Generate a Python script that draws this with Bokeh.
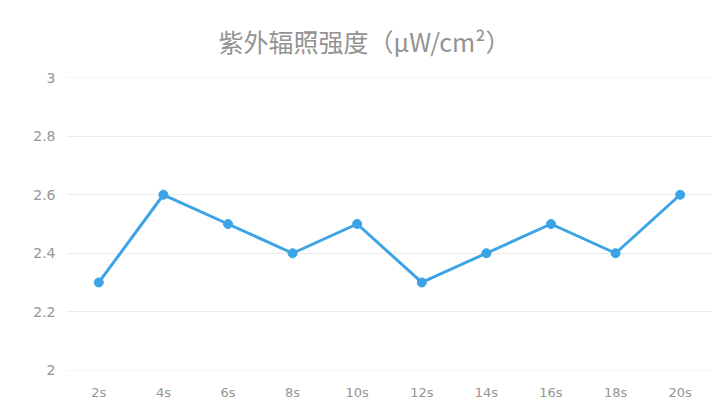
from bokeh.plotting import figure
from bokeh.models import Title, FixedTicker, Range1d
from bokeh.embed import file_html
from bokeh.resources import INLINE

categories = ["2s", "4s", "6s", "8s", "10s", "12s", "14s", "16s", "18s", "20s"]
values = [2.3, 2.6, 2.5, 2.4, 2.5, 2.3, 2.4, 2.5, 2.4, 2.6]
y_ticks = [2, 2.2, 2.4, 2.6, 2.8, 3]
title_text = "紫外辐照强度（μW/cm²）"

p = figure(x_range=categories, y_range=Range1d(1.999, 3.001), width=715, height=402,
           output_backend="svg", toolbar_location=None,
           min_border_left=66, min_border_right=3, min_border_top=77, min_border_bottom=30)
p.title = Title(text=title_text, align="left", offset=152, text_font_size="25px",
                text_color="#939393", text_font="Noto Sans CJK SC", text_font_style="normal",
                standoff=38)
p.outline_line_color = None
p.background_fill_color = "white"
p.border_fill_color = "white"

p.line(categories, values, line_color="#3ca4e6", line_width=3)
p.scatter(categories, values, size=9, fill_color="#3ca4e6", line_color="#3ca4e6")

p.yaxis.ticker = FixedTicker(ticks=y_ticks)
p.yaxis.major_label_overrides = {2: "2", 3: "3"}
for ax in (p.xaxis, p.yaxis):
    ax.axis_line_color = None
    ax.major_tick_line_color = None
    ax.minor_tick_line_color = None
    ax.major_tick_out = 0
    ax.major_tick_in = 0
    ax.minor_tick_out = 0
    ax.minor_tick_in = 0
    ax.major_label_text_color = "#959595"
    ax.major_label_text_font = "DejaVu Sans"
p.yaxis.major_label_text_font_size = "14px"
p.xaxis.major_label_text_font_size = "13px"
p.yaxis.major_label_standoff = 11
p.xaxis.major_label_standoff = 14
p.xgrid.grid_line_color = None
p.ygrid.grid_line_color = "#ebebeb"
p.ygrid.grid_line_width = 1

open("out.html", "w").write(file_html(p, INLINE))
